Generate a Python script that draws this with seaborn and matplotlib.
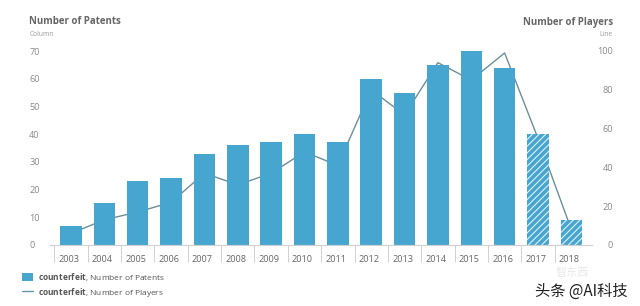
import matplotlib
matplotlib.use("Agg")
import matplotlib.pyplot as plt
import matplotlib.transforms as mtransforms
from matplotlib.patches import Patch
from matplotlib.lines import Line2D
import numpy as np
import pandas as pd
import seaborn as sns

years = ["2003", "2004", "2005", "2006", "2007", "2008", "2009", "2010",
         "2011", "2012", "2013", "2014", "2015", "2016", "2017", "2018"]
patents = [7, 15, 23, 24, 33, 36, 37, 40, 37, 60, 55, 65, 70, 64, 40, 9]
players = [6, 13, 17, 22, 37, 31, 37, 48, 41, 80, 67, 94, 85, 99, 55, 8]
estimated_years = ["2017", "2018"]
left_ticks = [0, 10, 20, 30, 40, 50, 60, 70]
right_ticks = [0, 20, 40, 60, 80, 100]

sns.set_theme(style="white")
plt.rcParams["font.family"] = ["Open Sans", "DejaVu Sans"]
plt.rcParams["mathtext.fontset"] = "custom"
plt.rcParams["mathtext.rm"] = "Open Sans"
plt.rcParams["mathtext.bf"] = "Open Sans:bold"
plt.rcParams["hatch.linewidth"] = 0.8

BAR = "#47A6D0"
LINE = "#6B8F99"
TICK = "#8a8a8a"

fig = plt.figure(figsize=(6.4, 3.06), dpi=100)
ax = fig.add_axes([50 / 640, 61 / 306, 542 / 640, 194 / 306])
ax2 = ax.twinx()

df = pd.DataFrame({"year": years, "patents": patents, "players": players})
sns.barplot(data=df, x="year", y="patents", ax=ax, color=BAR, width=0.645,
            saturation=1, edgecolor="none", linewidth=0)
for patch, yr in zip(ax.patches, years):
    if yr in estimated_years:
        patch.set_hatch("/////")
        patch.set_edgecolor("#dff1fa")
        patch.set_linewidth(0)

sns.lineplot(x=np.arange(len(years)), y=df["players"], ax=ax2, color=LINE,
             linewidth=1.0)

ax.set_zorder(ax2.get_zorder() + 1)
ax.patch.set_visible(False)

ax.set_xlim(-0.63, 15.62)
ax2.set_xlim(-0.63, 15.62)
ax.set_ylim(0, 70)
ax2.set_ylim(0, 100)

for a in (ax, ax2):
    for s in a.spines.values():
        s.set_visible(False)
    a.set_xlabel("")
    a.set_ylabel("")
ax.spines["bottom"].set_visible(True)
ax.spines["bottom"].set_color("#d0d0d0")
ax.spines["bottom"].set_linewidth(0.8)

# x ticks as separators with left-aligned labels
ax.set_xticks(np.arange(len(years)) - 0.5)
ax.set_xticklabels(years)
ax.tick_params(axis="x", bottom=True, length=12, width=0.7, color="#d0d0d0",
               labelsize=6.6, labelcolor="#666666", pad=-5, direction="out")
offset = mtransforms.ScaledTranslation(3 / 72, 0, fig.dpi_scale_trans)
for lab in ax.get_xticklabels():
    lab.set_horizontalalignment("left")
    lab.set_transform(lab.get_transform() + offset)

ax.set_yticks(left_ticks)
ax.set_yticklabels([str(v) for v in left_ticks])
ax.tick_params(axis="y", left=False, length=0, pad=15, labelsize=6.6, labelcolor=TICK)
for lab in ax.get_yticklabels():
    lab.set_horizontalalignment("left")

ax2.set_yticks(right_ticks)
ax2.set_yticklabels([str(v) for v in right_ticks])
ax2.tick_params(axis="y", right=False, length=0, pad=15, labelsize=6.6, labelcolor=TICK)
for lab in ax2.get_yticklabels():
    lab.set_horizontalalignment("right")
ax2.tick_params(axis="x", length=0)

# axis titles
fig.text(29 / 640, 1 - 22 / 306, "Number of Patents", fontsize=7, fontweight="bold",
         color="#666666", ha="left", va="center")
fig.text(30 / 640, 1 - 34 / 306, "Column", fontsize=4.8, color="#999999",
         ha="left", va="center")
fig.text(613 / 640, 1 - 22 / 306, "Number of Players", fontsize=7, fontweight="bold",
         color="#666666", ha="right", va="center")
fig.text(613 / 640, 1 - 34 / 306, "Line", fontsize=4.8, color="#999999",
         ha="right", va="center")

# legend
handles = [Patch(facecolor=BAR, edgecolor="none"),
           Line2D([0], [0], color="#5E9AAB", linewidth=1.0)]
labels = [r"$\mathbf{counterfeit}$, Number of Patents",
          r"$\mathbf{counterfeit}$, Number of Players"]
leg = fig.legend(handles, labels, loc="upper left",
                 bbox_to_anchor=(22 / 640, 1 - 271 / 306), frameon=False,
                 fontsize=6, handlelength=1.3, handleheight=1.1,
                 handletextpad=0.6, labelspacing=0.35, borderaxespad=0,
                 borderpad=0)
for t in leg.get_texts():
    t.set_color("#555555")

# watermark
fig.text(572 / 640, 1 - 273 / 306, "智东西", fontsize=8, color="#d9d9d9",
         alpha=0.6, ha="center", va="center",
         family=["Noto Sans CJK SC", "DejaVu Sans"])
fig.text(581 / 640, 1 - 291 / 306, "头条 @AI科技", fontsize=11, color="#222222",
         ha="center", va="center", family=["Noto Sans CJK SC", "DejaVu Sans"])

fig.savefig("out.png", dpi=100)
